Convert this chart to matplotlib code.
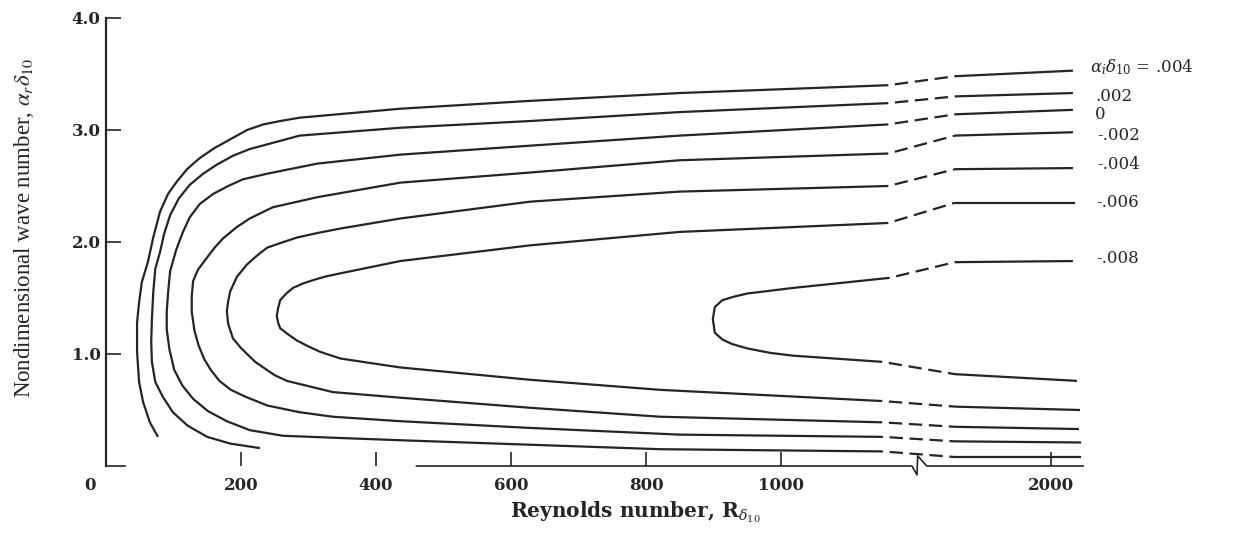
import numpy as np
import matplotlib.pyplot as plt

# Reynolds axis is broken at 1200; beyond the break it is squeezed 4:1
R_BREAK = 1200.0


def fwd(r):
    r = np.asarray(r, dtype=float)
    return np.where(r <= R_BREAK, r, R_BREAK + (r - R_BREAK) / 4.0)


def inv(u):
    u = np.asarray(u, dtype=float)
    return np.where(u <= R_BREAK, u, R_BREAK + (u - R_BREAK) * 4.0)


# curves of constant alpha_i*delta_10, left part traced lower end -> nose -> upper end
re_p004 = [77, 65, 55, 49, 46, 46, 49, 53, 62, 70, 80, 92, 105, 120, 139, 161, 188, 209, 233, 258, 287,
           436, 628, 850, 1159]
al_p004 = [0.26, 0.39, 0.57, 0.75, 1.02, 1.28, 1.46, 1.64, 1.82, 2.04, 2.27, 2.43, 2.54, 2.65, 2.75, 2.84,
           2.93, 3.00, 3.05, 3.08, 3.11, 3.19, 3.26, 3.33, 3.40]
up_re_p004 = [1431, 2130]
up_al_p004 = [3.48, 3.53]

re_p002 = [228, 184, 150, 121, 99, 84, 73, 68, 67, 68, 70, 73, 80, 86, 95, 108, 124, 144, 164, 188, 213,
           250, 287, 436, 628, 850, 1159]
al_p002 = [0.16, 0.20, 0.26, 0.36, 0.48, 0.62, 0.75, 0.93, 1.11, 1.31, 1.55, 1.76, 1.91, 2.07, 2.24, 2.39,
           2.51, 2.61, 2.69, 2.77, 2.83, 2.89, 2.95, 3.02, 3.08, 3.16, 3.24]
up_re_p002 = [1431, 2130]
up_al_p002 = [3.30, 3.33]

re_0 = [1151, 821, 628, 436, 347, 262, 213, 179, 151, 129, 113, 101, 94, 90, 90, 92, 95, 104, 114, 124, 139,
        159, 181, 203, 239, 313, 436, 628, 850, 1159]
al_0 = [0.13, 0.15, 0.19, 0.23, 0.25, 0.27, 0.32, 0.40, 0.49, 0.60, 0.72, 0.86, 1.04, 1.22, 1.38, 1.55, 1.74,
        1.93, 2.09, 2.22, 2.34, 2.43, 2.50, 2.56, 2.61, 2.70, 2.78, 2.86, 2.95, 3.05]
up_re_0 = [1431, 2130]
up_al_0 = [3.14, 3.18]
lo_re_0 = [1431, 2178]
lo_al_0 = [0.08, 0.08]

re_m002 = [1151, 850, 628, 436, 336, 287, 239, 206, 185, 168, 155, 145, 137, 131, 127, 127, 129, 136, 147,
           161, 173, 193, 213, 247, 313, 436, 628, 850, 1159]
al_m002 = [0.26, 0.28, 0.34, 0.40, 0.44, 0.48, 0.54, 0.62, 0.68, 0.76, 0.86, 0.96, 1.08, 1.21, 1.38, 1.51,
           1.65, 1.75, 1.84, 1.95, 2.03, 2.13, 2.21, 2.31, 2.40, 2.53, 2.62, 2.73, 2.79]
up_re_m002 = [1431, 2130]
up_al_m002 = [2.95, 2.98]
lo_re_m002 = [1431, 2178]
lo_al_m002 = [0.22, 0.21]

re_m004 = [1150, 821, 628, 436, 336, 302, 268, 250, 233, 221, 209, 199, 188, 181, 179, 181, 184, 194, 209,
           224, 239, 258, 283, 313, 347, 436, 628, 850, 1159]
al_m004 = [0.39, 0.44, 0.52, 0.61, 0.66, 0.71, 0.76, 0.81, 0.88, 0.93, 1.00, 1.06, 1.14, 1.27, 1.38, 1.47,
           1.56, 1.69, 1.80, 1.88, 1.95, 1.99, 2.04, 2.08, 2.12, 2.21, 2.36, 2.45, 2.50]
up_re_m004 = [1431, 2130]
up_al_m004 = [2.65, 2.66]
lo_re_m004 = [1431, 2166]
lo_al_m004 = [0.35, 0.33]

re_m006 = [1150, 821, 628, 436, 391, 347, 317, 299, 283, 271, 258, 255, 253, 255, 258, 267, 277, 292, 307,
           324, 347, 436, 628, 850, 1159]
al_m006 = [0.58, 0.68, 0.77, 0.88, 0.92, 0.96, 1.02, 1.07, 1.12, 1.17, 1.23, 1.28, 1.34, 1.41, 1.48, 1.54,
           1.59, 1.63, 1.66, 1.69, 1.72, 1.83, 1.97, 2.09, 2.17]
up_re_m006 = [1431, 2142]
up_al_m006 = [2.35, 2.35]
lo_re_m006 = [1431, 2172]
lo_al_m006 = [0.53, 0.50]

re_m008 = [1150, 1018, 984, 950, 927, 913, 902, 899, 902, 913, 929, 950, 1018, 1161]
al_m008 = [0.93, 0.985, 1.01, 1.05, 1.09, 1.13, 1.19, 1.31, 1.42, 1.48, 1.51, 1.54, 1.59, 1.68]
up_re_m008 = [1431, 2130]
up_al_m008 = [1.82, 1.83]
lo_re_m008 = [1431, 2154]
lo_al_m008 = [0.82, 0.76]

curve_labels = [r'$\alpha_i\delta_{10}$ = .004', '.002', '0', '-.002', '-.004', '-.006', '-.008']
label_re = [2232, 2262, 2262, 2272, 2272, 2268, 2268]
label_al = [3.56, 3.30, 3.14, 2.95, 2.69, 2.35, 1.85]

x_ticks = [200, 400, 600, 800, 1000, 2000]
y_ticks = [1.0, 2.0, 3.0, 4.0]

curves = [
    (re_p004, al_p004, up_re_p004, up_al_p004, None, None),
    (re_p002, al_p002, up_re_p002, up_al_p002, None, None),
    (re_0, al_0, up_re_0, up_al_0, lo_re_0, lo_al_0),
    (re_m002, al_m002, up_re_m002, up_al_m002, lo_re_m002, lo_al_m002),
    (re_m004, al_m004, up_re_m004, up_al_m004, lo_re_m004, lo_al_m004),
    (re_m006, al_m006, up_re_m006, up_al_m006, lo_re_m006, lo_al_m006),
    (re_m008, al_m008, up_re_m008, up_al_m008, lo_re_m008, lo_al_m008),
]

INK = '#252525'
LW = 1.6
DASH = (6, (6, 3))

fig = plt.figure(figsize=(12.47, 5.41), dpi=100)
ax = fig.add_axes([106 / 1247, 75 / 541, 1012.5 / 1247, 448 / 541])
ax.set_xscale('function', functions=(fwd, inv))
ax.set_xlim(0, 2400)
ax.set_ylim(0, 4.0)

for re, al, ure, ual, lre, lal in curves:
    ax.plot(re, al, color=INK, lw=LW, solid_capstyle='butt', solid_joinstyle='round')
    ax.plot(ure, ual, color=INK, lw=LW, solid_capstyle='butt')
    ax.plot([re[-1], ure[0]], [al[-1], ual[0]], color=INK, lw=LW, ls=DASH,
            dash_capstyle='butt')
    if lre is not None:
        ax.plot(lre, lal, color=INK, lw=LW, solid_capstyle='butt')
        ax.plot([re[0], lre[0]], [al[0], lal[0]], color=INK, lw=LW, ls=DASH,
                dash_capstyle='butt')

for txt, x, y in zip(curve_labels, label_re, label_al):
    ax.text(x, y, txt, ha='left', va='center', fontsize=12, color=INK,
            family='DejaVu Serif', math_fontfamily='dejavuserif', clip_on=False)

# axes: left spine kept, bottom drawn by hand with the break mark
for s in ['top', 'right', 'bottom']:
    ax.spines[s].set_visible(False)
ax.spines['left'].set_bounds(0, 4.0)
ax.spines['left'].set_linewidth(1.6)
ax.spines['left'].set_color(INK)

ax.plot([0, 28], [0, 0], color=INK, lw=1.2, clip_on=False)
ax.plot([460, 1194, 1206, 1210, 1264, 2190], [0, 0, -0.08, 0.09, 0, 0],
        color=INK, lw=1.2, clip_on=False)

ax.set_yticks(y_ticks)
ax.set_yticklabels(['%.1f' % v for v in y_ticks])
ax.set_xticks(x_ticks)
ax.set_xticklabels([str(v) for v in x_ticks])
ax.tick_params(axis='y', direction='in', length=11, width=1.2, pad=4,
               colors=INK, labelsize=12)
ax.tick_params(axis='x', direction='in', length=10, width=1.2, pad=8,
               colors=INK, labelsize=12)
for lab in ax.get_xticklabels() + ax.get_yticklabels():
    lab.set_family('DejaVu Serif')
    lab.set_fontweight('bold')
ax.minorticks_off()

ax.text(-24, -0.17, '0', ha='center', va='center', fontsize=12,
        family='DejaVu Serif', fontweight='bold', color=INK, clip_on=False)

fig.text(635 / 1247, 1 - 517 / 541, r'Reynolds number, $\mathbf{R}_{\delta_{10}}$',
         ha='center', va='baseline', fontsize=14.5, family='DejaVu Serif',
         fontweight='bold', math_fontfamily='dejavuserif', color=INK)
fig.text(24 / 1247, 1 - 228 / 541, r'Nondimensional wave number, $\alpha_r\delta_{10}$',
         rotation=90, ha='center', va='center', fontsize=16.5,
         family='Liberation Serif', math_fontfamily='stix', color=INK)

fig.savefig('out.png', dpi=100)
